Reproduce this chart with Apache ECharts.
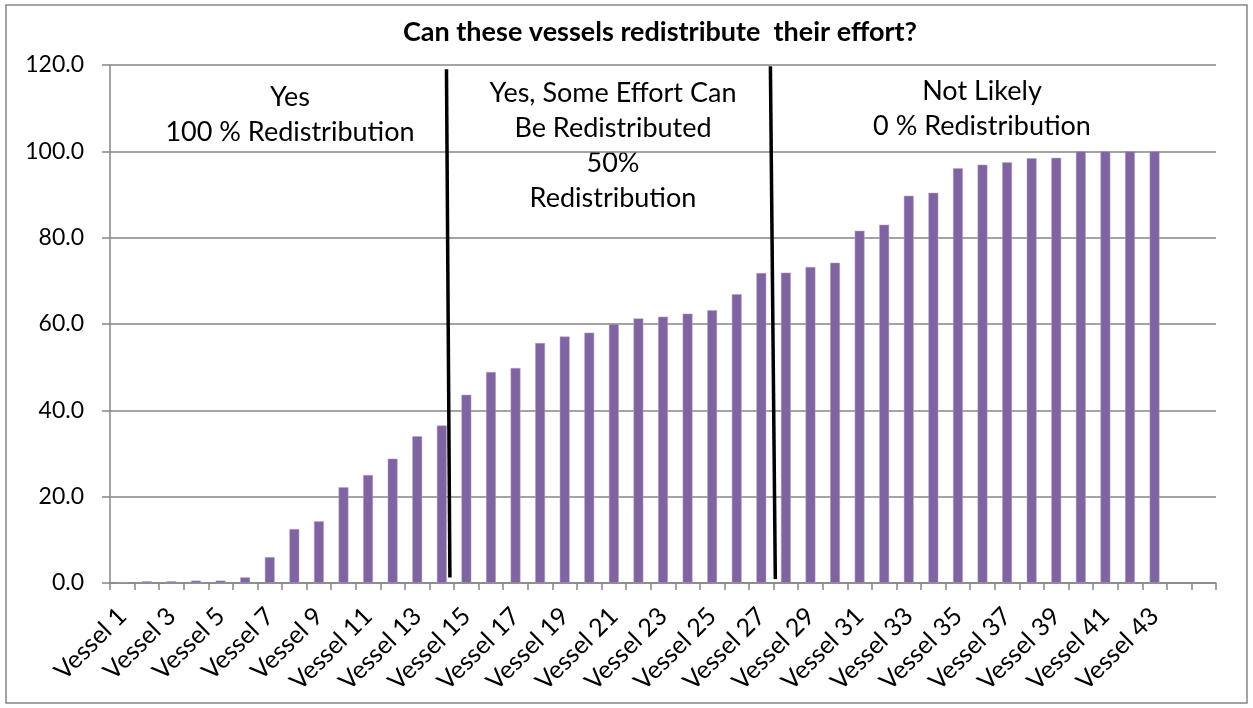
<!DOCTYPE html>
<html><head><meta charset="utf-8">
<script src="https://cdn.jsdelivr.net/npm/echarts@6/dist/echarts.min.js"></script>
<style>html,body{margin:0;padding:0;background:#fff}#c{width:1253px;height:708px}</style>
</head><body><div id="c"></div>
<script>
const categories = ["Vessel 1","Vessel 2","Vessel 3","Vessel 4","Vessel 5","Vessel 6","Vessel 7","Vessel 8","Vessel 9","Vessel 10",
"Vessel 11","Vessel 12","Vessel 13","Vessel 14","Vessel 15","Vessel 16","Vessel 17","Vessel 18","Vessel 19","Vessel 20",
"Vessel 21","Vessel 22","Vessel 23","Vessel 24","Vessel 25","Vessel 26","Vessel 27","Vessel 28","Vessel 29","Vessel 30",
"Vessel 31","Vessel 32","Vessel 33","Vessel 34","Vessel 35","Vessel 36","Vessel 37","Vessel 38","Vessel 39","Vessel 40",
"Vessel 41","Vessel 42","Vessel 43","",""];
const values = [0.2,0.4,0.4,0.55,0.55,1.3,6.0,12.5,14.3,22.2,25.0,28.8,34.0,36.5,43.6,48.9,49.8,55.6,57.1,58.0,
60.0,61.3,61.7,62.4,63.2,66.9,71.8,71.9,73.2,74.2,81.6,83.0,89.7,90.4,96.1,96.9,97.5,98.4,98.5,100,100,100,100];
const yTicks = [0,20,40,60,80,100,120];
const dividerA = [[13.69,119.0],[13.83,1.3]];
const dividerB = [[26.87,119.7],[27.07,0.9]];
const title = "Can these vessels redistribute  their effort?";
const zoneLeft = ["Yes","100 % Redistribution"];
const zoneMid = ["Yes, Some Effort Can","Be Redistributed","50%","Redistribution"];
const zoneRight = ["Not Likely","0 % Redistribution"];

const FONT = "Lato";
const chart = echarts.init(document.getElementById('c'));
chart.setOption({
  animation:false,
  textStyle:{fontFamily:FONT},
  grid:{left:110,right:37,top:65,bottom:125,containLabel:false},
  graphic:[
    {type:'rect', shape:{x:6,y:5,width:1241,height:698}, style:{fill:'none',stroke:'#868686',lineWidth:1.5}, silent:true},
    {type:'text', x:660, y:19, style:{text:title, font:'bold 27px '+FONT, fill:'#000', textAlign:'center'}},
    {type:'text', x:290, y:80, style:{text:zoneLeft.join('\n'), font:'27px '+FONT, fill:'#000', textAlign:'center', lineHeight:35}},
    {type:'text', x:613, y:76, style:{text:zoneMid.join('\n'), font:'27px '+FONT, fill:'#000', textAlign:'center', lineHeight:35}},
    {type:'text', x:982, y:74, style:{text:zoneRight.join('\n'), font:'27px '+FONT, fill:'#000', textAlign:'center', lineHeight:35}}
  ],
  xAxis:[
    {type:'category', data:categories, boundaryGap:true,
     axisLine:{lineStyle:{color:'#868686',width:1.5}},
     axisTick:{show:true,interval:0,length:7,lineStyle:{color:'#868686',width:1.5}},
     axisLabel:{interval:1,rotate:45,fontSize:25,color:'#000',fontFamily:FONT,margin:29}},
    {type:'value', min:0, max:45, show:false}
  ],
  yAxis:{type:'value', min:0, max:120, interval:20,
    axisLine:{show:true,lineStyle:{color:'#868686',width:1.5}},
    axisTick:{show:true,length:8,lineStyle:{color:'#868686',width:1.5}},
    splitLine:{lineStyle:{color:'#868686',width:1.5}},
    axisLabel:{fontSize:23,color:'#000',fontFamily:FONT,margin:26,formatter:v=>v.toFixed(1)}},
  series:[
    {type:'bar', data:values, barWidth:'40%', itemStyle:{color:'#8064A2',borderColor:'#B3A2C7',borderWidth:0.5}},
    {type:'line', xAxisIndex:1, data:dividerA, symbol:'none', lineStyle:{color:'#000',width:3.5}, z:5},
    {type:'line', xAxisIndex:1, data:dividerB, symbol:'none', lineStyle:{color:'#000',width:3.5}, z:5}
  ]
});
</script></body></html>
